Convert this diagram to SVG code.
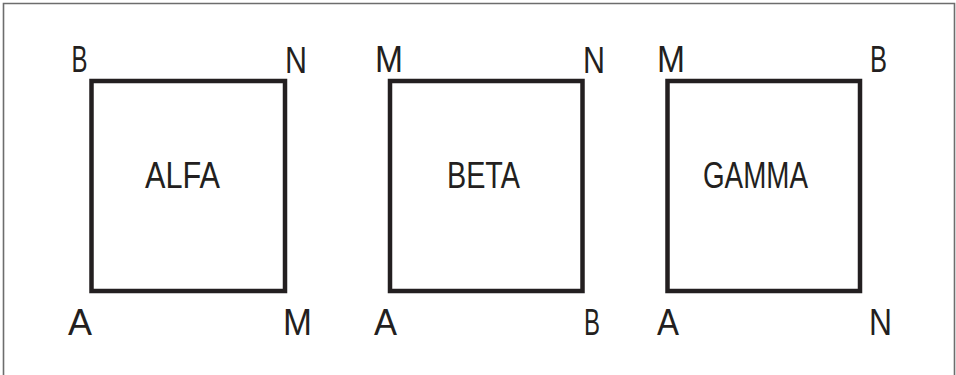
<svg xmlns="http://www.w3.org/2000/svg" width="956" height="375" viewBox="0 0 956 375">
  <style>
    .frame { fill: none; stroke: #6d6d6d; stroke-width: 1.6; }
    .box rect { fill: none; stroke: #231f20; stroke-width: 4.5; }
    .lbl { font-family: "Liberation Sans", Arial, sans-serif; font-size: 36px; fill: #231f20; }
  </style>
  <rect width="956" height="375" fill="#ffffff"/>
  <!-- open frame: left, top, right -->
  <path class="frame" d="M3.5,375 V3.5 H954.5 V375"/>

  <g id="alfa" class="box">
    <rect x="91.5" y="81" width="193.5" height="210"/>
    <text class="lbl" x="145" y="188" textLength="75" lengthAdjust="spacingAndGlyphs">ALFA</text>
    <text class="lbl" x="71.5" y="72" textLength="16" lengthAdjust="spacingAndGlyphs">B</text>
    <text class="lbl" x="285" y="73" textLength="22" lengthAdjust="spacingAndGlyphs">N</text>
    <text class="lbl" x="68" y="335" textLength="24" lengthAdjust="spacingAndGlyphs">A</text>
    <text class="lbl" x="283" y="335" textLength="29" lengthAdjust="spacingAndGlyphs">M</text>
  </g>

  <g id="beta" class="box">
    <rect x="390" y="81" width="192.5" height="210"/>
    <text class="lbl" x="447" y="188" textLength="73" lengthAdjust="spacingAndGlyphs">BETA</text>
    <text class="lbl" x="375" y="72" textLength="28" lengthAdjust="spacingAndGlyphs">M</text>
    <text class="lbl" x="583" y="73" textLength="22" lengthAdjust="spacingAndGlyphs">N</text>
    <text class="lbl" x="374" y="335" textLength="23" lengthAdjust="spacingAndGlyphs">A</text>
    <text class="lbl" x="584" y="335" textLength="16" lengthAdjust="spacingAndGlyphs">B</text>
  </g>

  <g id="gamma" class="box">
    <rect x="667.5" y="81" width="192.5" height="210"/>
    <text class="lbl" x="703" y="188" textLength="105" lengthAdjust="spacingAndGlyphs">GAMMA</text>
    <text class="lbl" x="657" y="72" textLength="28" lengthAdjust="spacingAndGlyphs">M</text>
    <text class="lbl" x="870" y="72" textLength="17" lengthAdjust="spacingAndGlyphs">B</text>
    <text class="lbl" x="657" y="335" textLength="22" lengthAdjust="spacingAndGlyphs">A</text>
    <text class="lbl" x="869" y="335" textLength="23" lengthAdjust="spacingAndGlyphs">N</text>
  </g>

  <g id="connectors"/>
</svg>
